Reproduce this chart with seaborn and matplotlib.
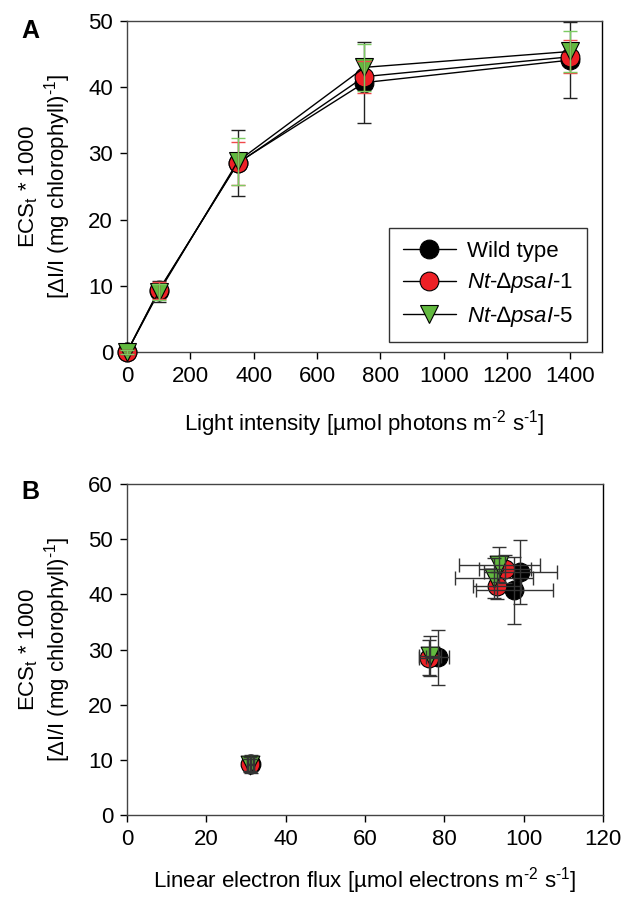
import matplotlib
matplotlib.use("Agg")
import matplotlib.pyplot as plt
from matplotlib.lines import Line2D
import seaborn as sns
import pandas as pd

# Light-response data (panel A)
light = [0, 100, 350, 750, 1400]
wt_ecs = [0, 9.2, 28.6, 40.7, 44.1]
wt_err = [0.3, 1.6, 5.0, 6.1, 5.8]
nt1_ecs = [0, 9.3, 28.5, 41.6, 44.6]
nt1_err = [0.3, 1.3, 3.2, 2.4, 2.5]
nt5_ecs = [0, 9.0, 28.8, 43.0, 45.4]
nt5_err = [0.3, 1.2, 3.6, 3.6, 3.1]

# Linear electron flux for the non-zero light intensities (panel B)
wt_lef = [31.2, 78.3, 97.6, 99.2]
wt_lef_err = [0.8, 3.0, 9.7, 9.3]
nt1_lef = [31.0, 76.2, 93.3, 95.3]
nt1_lef_err = [0.8, 2.5, 6.0, 6.5]
nt5_lef = [31.1, 76.4, 92.5, 93.8]
nt5_lef_err = [0.8, 2.8, 9.8, 10.2]

labels = ["Wild type",
          r"$\mathit{Nt}$-$\mathit{∆psaI}$-1",
          r"$\mathit{Nt}$-$\mathit{∆psaI}$-5"]

sns.set_theme(style="ticks")
plt.rcParams["font.family"] = ["Liberation Sans", "DejaVu Sans"]
plt.rcParams["text.color"] = "black"
plt.rcParams["axes.labelcolor"] = "black"
plt.rcParams["mathtext.fontset"] = "custom"
plt.rcParams["mathtext.rm"] = "Liberation Sans"
plt.rcParams["mathtext.it"] = "Liberation Sans:italic"
plt.rcParams["mathtext.bf"] = "Liberation Sans:bold"

fills = ["#000000", "#ee2026", "#62b93f"]
bar_cols = ["#222222", "#f0484c", "#7ccb62"]
markers = ["o", "o", "v"]
msize = 13.5
FS = 16

fig = plt.figure(figsize=(6.24, 8.98), dpi=100)
axA = fig.add_axes([0.2035, 0.608, 0.7612, 0.3686])
axB = fig.add_axes([0.2035, 0.0924, 0.7628, 0.3686])

series_a = [(wt_ecs, wt_err), (nt1_ecs, nt1_err), (nt5_ecs, nt5_err)]
for i, (ys, es) in enumerate(series_a):
    df = pd.DataFrame({"light": light, "ecs": ys})
    sns.lineplot(data=df, x="light", y="ecs", ax=axA, color="black",
                 lw=1.0, marker=markers[i], markersize=msize,
                 markerfacecolor=fills[i], markeredgecolor="black",
                 markeredgewidth=0.8, clip_on=False, zorder=3 + i)
for i, (ys, es) in enumerate(series_a):
    axA.errorbar(light, ys, yerr=es, fmt="none", ecolor=bar_cols[i],
                 elinewidth=1.0, capsize=5, capthick=1.0, zorder=10 + i,
                 clip_on=False)

handles = [Line2D([0], [0], color="black", lw=1.0, marker=markers[i],
                  markersize=msize, markerfacecolor=fills[i],
                  markeredgecolor="black", markeredgewidth=0.8)
           for i in range(3)]
leg = axA.legend(handles, labels, loc="lower right", bbox_to_anchor=(0.968, 0.03),
                 fontsize=FS, frameon=True, fancybox=False, edgecolor="black",
                 handlelength=2.4, handletextpad=0.5, borderpad=0.6,
                 labelspacing=0.38, borderaxespad=0.0)
leg.get_frame().set_linewidth(1.0)

axA.set_xlim(0, 1500)
axA.set_ylim(0, 50)
axA.set_xticks([0, 200, 400, 600, 800, 1000, 1200, 1400])
axA.set_yticks([0, 10, 20, 30, 40, 50])
axA.set_xlabel(r"Light intensity [µmol photons m$^{\text{-2}}$ s$^{\text{-1}}$]",
               fontsize=FS, labelpad=15)

series_b = [(wt_lef, wt_lef_err, wt_ecs[1:], wt_err[1:]),
            (nt1_lef, nt1_lef_err, nt1_ecs[1:], nt1_err[1:]),
            (nt5_lef, nt5_lef_err, nt5_ecs[1:], nt5_err[1:])]
for i, (xs, xe, ys, ye) in enumerate(series_b):
    df = pd.DataFrame({"lef": xs, "ecs": ys})
    sns.scatterplot(data=df, x="lef", y="ecs", ax=axB, marker=markers[i],
                    s=msize ** 2, color=fills[i], edgecolor="black",
                    linewidth=0.8, zorder=3 + i, legend=False)
for i, (xs, xe, ys, ye) in enumerate(series_b):
    axB.errorbar(xs, ys, xerr=xe, yerr=ye, fmt="none", ecolor="#333333",
                 elinewidth=1.0, capsize=5, capthick=1.0, zorder=10)

axB.set_xlim(0, 120)
axB.set_ylim(0, 60)
axB.set_xticks(range(0, 121, 20))
axB.set_yticks(range(0, 61, 10))
axB.set_xlabel(r"Linear electron flux [µmol electrons m$^{\text{-2}}$ s$^{\text{-1}}$]",
               fontsize=FS, labelpad=11)

for ax in (axA, axB):
    ax.set_ylabel("")
    for side in ("left", "top", "right", "bottom"):
        ax.spines[side].set_visible(True)
        ax.spines[side].set_color("#444444")
        ax.spines[side].set_linewidth(1.0)
    ax.spines["right"].set_color("black")
    ax.tick_params(axis="both", direction="out", length=5, width=1.0,
                   labelsize=FS, pad=5, colors="black")
    ax.tick_params(top=False, right=False)

# Two-line y-axis titles and panel letters
for yc in (0.7925, 0.2767):
    fig.text(0.046, yc, r"ECS$_\mathrm{t}$ * 1000", rotation=90, ha="center",
             va="center", fontsize=FS)
    fig.text(0.092, yc, r"[ΔI/I (mg chlorophyll)$^{\text{-1}}$]", rotation=90,
             ha="center", va="center", fontsize=FS)
fig.text(0.048, 0.966, "A", fontsize=18, fontweight="bold", ha="center", va="center")
fig.text(0.048, 0.452, "B", fontsize=18, fontweight="bold", ha="center", va="center")

fig.savefig("out.png", dpi=100)
